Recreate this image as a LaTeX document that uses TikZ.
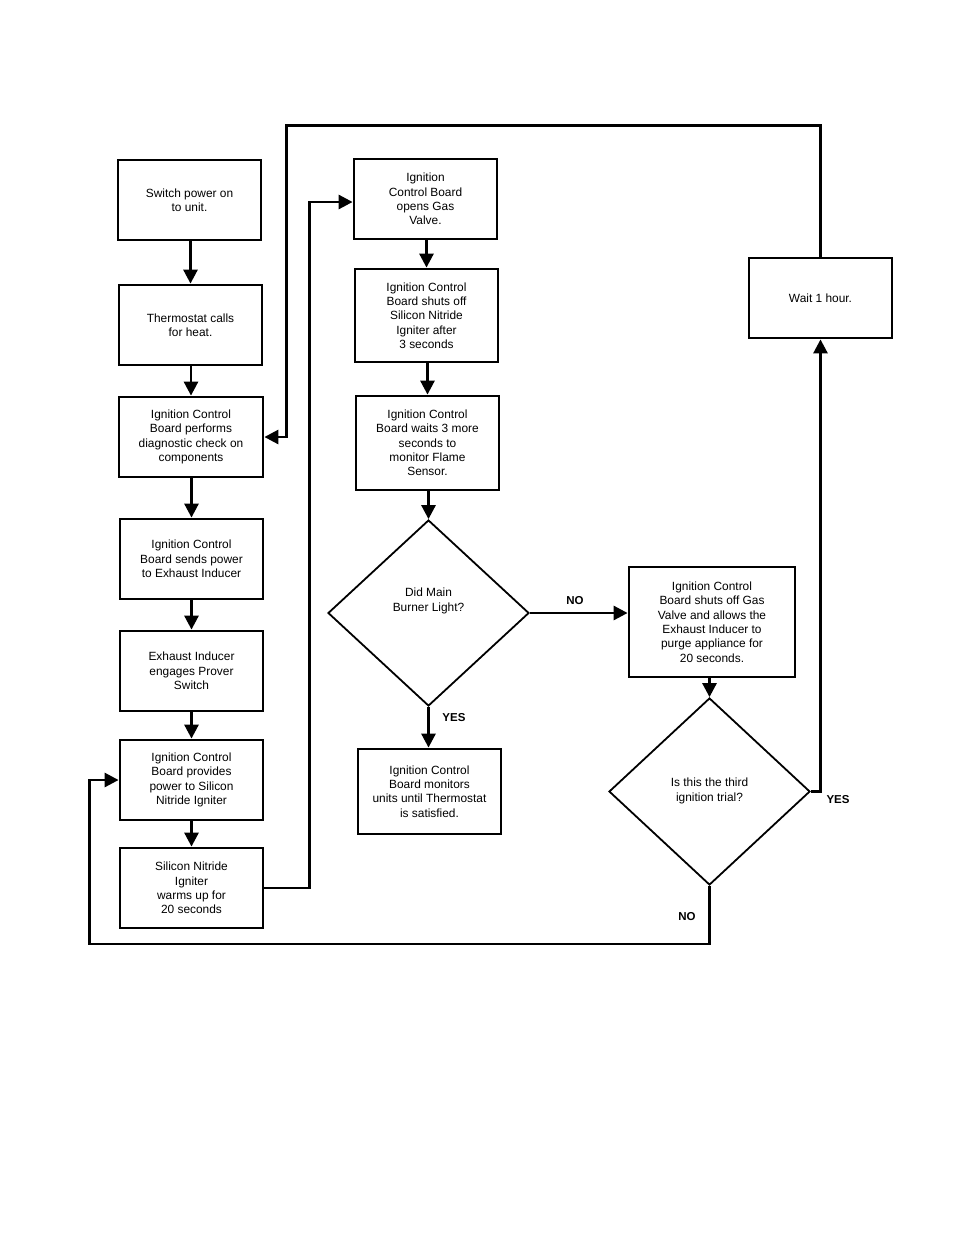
\documentclass[tikz,border=0pt]{standalone}
\usepackage{fontspec}
\setmainfont{Liberation Sans}
\usetikzlibrary{shapes.geometric,arrows.meta}
\begin{document}
\begin{tikzpicture}[x=1pt,y=1pt,
 box/.style={draw,line width=2.8pt,inner sep=0pt,align=center,minimum width=143pt,minimum height=80pt,font=\fontsize{11.9}{14.3}\selectfont},
 dia/.style={draw,diamond,line width=1.8pt,inner sep=0pt},
 txt/.style={align=center,inner sep=0pt,font=\fontsize{11.9}{14.3}\selectfont},
 lab/.style={inner sep=0pt,font=\fontsize{11.5}{13}\selectfont\bfseries},
 conn/.style={line width=2.8pt,-{Triangle[length=14pt,width=14pt]}}]
\useasboundingbox (0,0) rectangle (954,-1235);
% left column
\node[box] (b1) at (189.5,-200) {Switch power on\\to unit.};
\node[box] (b2) at (190.5,-325) {Thermostat calls\\for heat.};
\node[box,minimum width=144pt] (b3) at (191,-437) {Ignition Control\\Board performs\\diagnostic check on\\components};
\node[box] (b4) at (191.5,-559) {Ignition Control\\Board sends power\\to Exhaust Inducer};
\node[box] (b5) at (191.5,-671) {Exhaust Inducer\\engages Prover\\Switch};
\node[box] (b6) at (191.5,-780) {Ignition Control\\Board provides\\power to Silicon\\Nitride Igniter};
\node[box] (b7) at (191.5,-888) {Silicon Nitride\\Igniter\\warms up for\\20 seconds};
% middle column
\node[box] (b8) at (425.5,-199) {Ignition\\Control Board\\opens Gas\\Valve.};
\node[box,minimum height=93pt] (b9) at (426.5,-315.5) {Ignition Control\\Board shuts off\\Silicon Nitride\\Igniter after\\3 seconds};
\node[box,minimum height=94pt] (b10) at (427.5,-443) {Ignition Control\\Board waits 3 more\\seconds to\\monitor Flame\\Sensor.};
\node[dia,minimum width=201pt,minimum height=186pt] (d1) at (428.5,-613) {};
\node[txt] (t1) at (428.5,-601) {Did Main\\Burner Light?};
\node[box,minimum height=85pt] (b12) at (429.5,-791.5) {Ignition Control\\Board monitors\\units until Thermostat\\is satisfied.};
% right column
\node[box,minimum width=166pt,minimum height=110pt] (b13) at (712,-622) {Ignition Control\\Board shuts off Gas\\Valve and allows the\\Exhaust Inducer to\\purge appliance for\\20 seconds.};
\node[dia,minimum width=201pt,minimum height=187pt] (d2) at (709.5,-791.5) {};
\node[txt] (t2) at (709.5,-791) {Is this the third\\ignition trial?};
\node[box] (b15) at (820.5,-298) {Wait 1 hour.};
% connectors
\draw[conn] (b1.south -| b2) -- (b2.north);
\draw[conn] (b2.south -| b3) -- (b3.north);
\draw[conn] (b3.south -| b4) -- (b4.north);
\draw[conn] (b4.south) -- (b5.north);
\draw[conn] (b5.south) -- (b6.north);
\draw[conn] (b6.south) -- (b7.north);
\draw[conn] (b7.east) -- ++(45,0) |- ([yshift=-3pt]b8.west);
\draw[conn] (b8.south -| b9) -- (b9.north);
\draw[conn] (b9.south -| b10) -- (b10.north);
\draw[conn] (b10.south -| d1) -- (d1.north);
\draw[conn] (d1.east) -- (d1.east -| b13.west);
\draw[conn] (d1.south) -- (d1.south |- b12.north);
\draw[conn] (b13.south -| d2.north) -- (d2.north);
\draw[conn] (d2.east) -| (b15.south);
\draw[conn] (b15.north) -- ++(0,131) -| ([xshift=22pt]b3.east) -- (b3.east);
\draw[conn] (d2.south) -- ++(0,-58) -| ([xshift=-29pt]b6.west) -- (b6.west);
% labels
\node[lab] (l1) at (575,-601) {NO};
\node[lab] (l2) at (454,-718) {YES};
\node[lab] (l3) at (838,-800) {YES};
\node[lab] (l4) at (687,-917) {NO};
\end{tikzpicture}
\end{document}
